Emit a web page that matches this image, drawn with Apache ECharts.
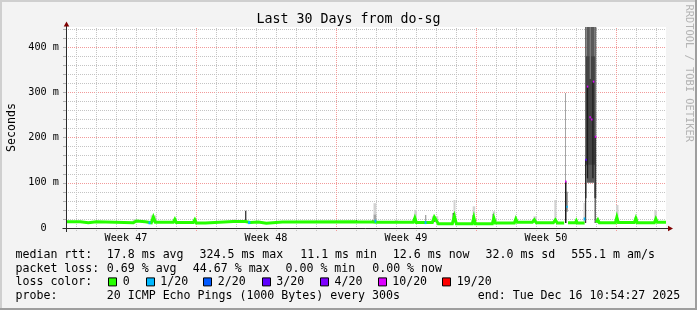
<!DOCTYPE html>
<html><head><meta charset="utf-8">
<script src="https://cdn.jsdelivr.net/npm/echarts@6/dist/echarts.min.js"></script>
<style>html,body{margin:0;padding:0;background:#f3f3f3}#c{width:697px;height:310px}</style>
</head><body><div id="c"></div>
<script>
// ---------- DATA (hours on x: start of range = 12, end = 732; values in ms) ----------
const tStart = 12, tEnd = 732, yMaxMs = 445;
const dayHours = 24, weekHours = 168;
const weekCenters = [84, 252, 420, 588];
const weekLabels = ['Week 47', 'Week 48', 'Week 49', 'Week 50'];
const yTickValues = [0, 100, 200, 300, 400];
const yTickLabels = ['0  ', '100 m', '200 m', '300 m', '400 m'];

// median rtt polyline [hour, ms]; null = gap
const medianPts = [
  [12,14],[29.2,14],[29.2,11.5],[38.8,11.5],[38.8,14],[48.4,14],[48.4,11.5],[92.8,11.5],[94,15.5],[96.4,15.5],
  [97.6,14],[107.2,14],[107.2,11.5],[114.4,11.5],[116.8,24],[119.2,12.5],[140.8,12.5],[142.6,19],[144.4,12],
  [164.8,12],[166.6,18],[168.4,11],[179.2,11],[179.2,14],[212.8,14.5],[214.6,16],[216.4,14.5],[227.2,14.5],
  [228.4,12],[233.2,12],[233.2,13.5],[242.8,13.5],[242.8,10.5],[252.4,10.5],[252.4,13.5],[271.6,13.5],[271.6,14],
  [359.2,14],[361,17],[362.8,13.5],[379.6,13.5],[382,16],[384.4,13],[407.2,13],[408.4,15],[409.6,12.5],
  [428.8,12.5],[430.6,22],[432.4,12],[451.6,12],[454,24],[456.4,23],[458.8,9.5],[475.6,9.5],[478,26],[480.4,9.5],
  [499.6,9.5],[501.4,23],[503.2,9.5],[523.6,9.5],[525.4,22],[527.2,11],[550,11],[551.8,20],[553.6,12.5],
  [571.6,12.5],[574,18],[576.4,11.5],[596.8,11.5],[599.2,18],[601.6,11],[609.8,11],[611,null],
  [614.4,11.5],[623.2,11.5],[624.4,16],[625.6,11],[634.4,11],[640,null],
  [648.2,12],[650.2,18],[652,11.5],[671.2,11.5],[673,24],[674.8,12],[694,12],[695.8,21],[697.6,11.5],
  [718,11.5],[719.8,20],[721.6,12.5],[732,12.5]
];

// smoke bands [hourFrom, hourTo, lowMs, highMs]
const smokeLight = [
  [92,98,12,19],[113.6,120.4,12,28],[212.8,216.4,13,19],[381,384.4,30,55],[406.6,410,13,18],[430,433,22,40],
  [451,458.6,13,26],[477,479.4,33,62],[500,503,29,48],[524,527,31,37],[573,577,12,26],[598,600.6,18,62],
  [633,635.2,12,56],[672,675,26,51],[694,698,12,24],[718,721,20,40]
];
const smokeMid = [
  [381,384.4,14,30],[442.8,444.4,12,29],[477,479.4,15,33],[610.8,612,103,299],[612.4,614.4,36,80]
];
const smokeBlobOuter = [[634.8,636.8,66,460],[645.8,648.4,66,460]];
const smokeBlobCenter = [[636.8,645.8,100,460]];
const smokeBlobDark = [[636,646.6,140,380]];
const smokeBlobLightStreak = [[640.4,642,330,460]];
const smokeBlack = [
  [115.8,117.4,18,25],[227,228.4,14,38],[360,361.2,14,17],[379.6,380.8,14,17],[429,430.2,14,22],
  [453.4,454.6,14,24],[476,477.4,14,33],[500,501.2,14,29],[524,525.2,14,31],[550,551.2,14,20],
  [573.4,574.6,14,18],[598,599.2,14,18],[623.6,624.6,14,16],[649,650.2,14,18],[672,673.2,14,26],
  [695,696.2,14,22],[718.6,719.8,14,20],
  [610.8,612.6,11,103],[635,636.2,11,151],[646.4,647.6,11,203],[637,638.6,110,313],[643.6,645,110,324]
];

// samples with packet loss [hourFrom, hourTo, ms, lostOf20]
const lossMarks = [
  [111,113.4,11.5,1],[230.4,233.2,12,1],[382.3,384.4,15,1],[442.3,444.6,12,1],
  [612.4,614,47,1],[610.8,612.4,103,10],[633.2,635.2,20,1],[635.2,636.6,151,3],
  [637,638.8,313,10],[640,641.6,245,10],[642,643.4,240,10],[644.2,645.8,324,10],[646.6,648,202,10]
];

// legend texts
const lossLevels = [0, 1, 2, 3, 4, 10, 19];
const lossLegend = ['0', '1/20', '2/20', '3/20', '4/20', '10/20', '19/20'];
const rowLabels = ['median rtt:', 'packet loss:', 'loss color:', 'probe:'];
const rttStats = ['17.8 ms avg', '324.5 ms max', '11.1 ms min', '12.6 ms now', '32.0 ms sd', '555.1 m am/s'];
const lossStats = ['0.69 % avg', '44.67 % max', '0.00 % min', '0.00 % now'];
const probeText = '20 ICMP Echo Pings (1000 Bytes) every 300s';
const endText = 'end: Tue Dec 16 10:54:27 2025';
const titleText = 'Last 30 Days from do-sg';
const yTitle = 'Seconds';
const watermark = 'RRDTOOL / TOBI OETIKER';

// ---------- STYLE ----------
const MONO = '"DejaVu Sans Mono", monospace';
const lossColors = {0:'#26ff00',1:'#00b8ff',2:'#0059ff',3:'#5e00ff',4:'#7e00ff',10:'#dd00ff',19:'#ff0000'};
const GRID_MINOR = '#c4c4c4', GRID_MAJOR = '#f29a9a';
const yLineColors = [GRID_MAJOR, GRID_MINOR, GRID_MINOR, GRID_MINOR, GRID_MINOR];

// vertical grid positions: every midnight inside the range
const dayLines = [];
for (let t = Math.ceil(tStart / dayHours) * dayHours; t < tEnd; t += dayHours) dayLines.push([t, t % weekHours === 0 ? 1 : 0]);

function band(data, color, z) {
  return {
    type: 'custom', data: data, z: z, silent: true, clip: true,
    encode: {x: [0, 1], y: [2, 3]},
    renderItem: function (params, api) {
      const a = api.coord([api.value(0), api.value(3)]);
      const b = api.coord([api.value(1), api.value(2)]);
      const cs = params.coordSys;
      const r = echarts.graphic.clipRectByRect(
        {x: a[0], y: a[1], width: Math.max(b[0] - a[0], 1), height: b[1] - a[1]},
        {x: cs.x, y: cs.y, width: cs.width, height: cs.height});
      if (!r) return null;
      return {type: 'rect', shape: r, style: {fill: color}};
    }
  };
}

const chart = echarts.init(document.getElementById('c'), null, {renderer: 'canvas', width: 697, height: 310});
chart.setOption({
  animation: false,
  backgroundColor: '#f3f3f3',
  grid: {left: 66, top: 27, width: 600, height: 201, show: true, backgroundColor: '#ffffff', borderWidth: 0},
  xAxis: {
    type: 'value', min: tStart, max: tEnd, interval: 12,
    axisLine: {show: false}, axisTick: {show: false}, splitLine: {show: false},
    axisLabel: {
      margin: 5, color: '#000', fontFamily: MONO, fontSize: 10.2,
      formatter: function (v) {
        const i = weekCenters.findIndex(c => Math.abs(c - v) < 1e-6);
        return i >= 0 ? weekLabels[i] : '';
      }
    }
  },
  yAxis: {
    type: 'value', min: 0, max: yMaxMs, interval: 20,
    axisLine: {show: false},
    axisTick: {show: true, length: 3, lineStyle: {color: '#b0b0b0'}},
    axisLabel: {
      margin: 7, color: '#000', fontFamily: MONO, fontSize: 10.2, showMaxLabel: false,
      formatter: function (v) {
        const i = yTickValues.findIndex(c => Math.abs(c - v) < 1e-6);
        return i >= 0 ? yTickLabels[i] : '';
      }
    },
    splitLine: {show: true, showMaxLine: false, lineStyle: {color: yLineColors, width: 1, type: [1, 1]}}
  },
  series: [
    {
      type: 'custom', data: dayLines, z: 0, silent: true, clip: false,
      encode: {x: 0},
      renderItem: function (params, api) {
        const cs = params.coordSys;
        const x = Math.round(api.coord([api.value(0), 0])[0]) + 0.5;
        return {type: 'line', shape: {x1: x, y1: cs.y + cs.height + 3, x2: x, y2: cs.y},
          style: {stroke: api.value(1) ? GRID_MAJOR : GRID_MINOR, lineWidth: 1, lineDash: [1, 1]}};
      }
    },
    band(smokeLight, '#d2d2d2', 1),
    band(smokeMid, '#a4a4a4', 2),
    band(smokeBlobOuter, '#6c6c6c', 3),
    band(smokeBlobCenter, '#595959', 3),
    band(smokeBlobDark, '#434343', 4),
    band(smokeBlobLightStreak, '#7c7c7c', 4),
    band(smokeBlack, '#1c1c1c', 5),
    {
      type: 'line', data: medianPts, z: 6, silent: true, showSymbol: false, connectNulls: false, clip: true,
      lineStyle: {color: lossColors[0], width: 3, cap: 'butt', join: 'miter'}
    },
    {
      type: 'custom', data: lossMarks, z: 7, silent: true, clip: true,
      encode: {x: [0, 1], y: 2},
      renderItem: function (params, api) {
        const a = api.coord([api.value(0), api.value(2)]);
        const b = api.coord([api.value(1), api.value(2)]);
        const h = api.value(2) > 30 ? 2 : 3;
        return {type: 'rect', shape: {x: a[0], y: a[1] - h / 2, width: Math.max(b[0] - a[0], 1.5), height: h},
          style: {fill: lossColors[api.value(3)]}};
      }
    }
  ]
});

// ---------- decorations (axes with arrows, frame, texts, legend) ----------
const p0 = chart.convertToPixel({gridIndex: 0}, [tStart, 0]);
const p1 = chart.convertToPixel({gridIndex: 0}, [tEnd, yMaxMs]);
const ax = Math.floor(p0[0]) + 0.5, ay = Math.floor(p0[1]) + 0.5;
const topY = p1[1], rightX = p1[0];
const AXIS = '#2a2a2a', ARROW = '#7f0000';
const g = [];
g.push({type: 'rect', shape: {x: 0, y: 0, width: 697, height: 2}, style: {fill: '#cfcfcf'}, silent: true});
g.push({type: 'rect', shape: {x: 0, y: 0, width: 2, height: 310}, style: {fill: '#cfcfcf'}, silent: true});
g.push({type: 'rect', shape: {x: 0, y: 308, width: 697, height: 2}, style: {fill: '#9e9e9e'}, silent: true});
g.push({type: 'rect', shape: {x: 695, y: 0, width: 2, height: 310}, style: {fill: '#9e9e9e'}, silent: true});
g.push({type: 'line', z: 50, shape: {x1: ax - 4, y1: ay, x2: rightX + 2, y2: ay}, style: {stroke: AXIS, lineWidth: 1}, silent: true});
g.push({type: 'line', z: 50, shape: {x1: ax, y1: ay + 3.5, x2: ax, y2: topY - 1}, style: {stroke: AXIS, lineWidth: 1}, silent: true});
g.push({type: 'polygon', z: 51, shape: {points: [[ax - 2.8, topY - 0.5], [ax + 2.8, topY - 0.5], [ax, topY - 5.5]]}, style: {fill: ARROW}, silent: true});
g.push({type: 'polygon', z: 51, shape: {points: [[rightX + 2, ay - 2.8], [rightX + 2, ay + 2.8], [rightX + 7, ay]]}, style: {fill: ARROW}, silent: true});

function txt(s, x, y, size, opts) {
  opts = opts || {};
  return {type: 'text', x: x, y: y, rotation: opts.rot || 0, z: 60, silent: true,
    style: {text: s, font: size + 'px ' + MONO, fill: opts.color || '#000',
      textAlign: opts.align || 'left', align: opts.align || 'left',
      textVerticalAlign: 'middle', verticalAlign: 'middle'}};
}
g.push(txt(titleText, 348.5, 20, 13.3, {align: 'center'}));
g.push(txt(yTitle, 11.5, 127.5, 11.6, {align: 'center', rot: Math.PI / 2}));
g.push(txt(watermark, 688.5, 4.5, 10.4, {align: 'left', rot: -Math.PI / 2, color: '#b4b4b4'}));

const LF = 11.6;
const rowY = [254.8, 268.6, 282.4, 296.4];
const labelX = 15.5;
rowLabels.forEach((s, i) => g.push(txt(s, labelX, rowY[i], LF)));
const rttX = [106.8, 199.5, 300.2, 392.8, 485.5, 571.2];
rttStats.forEach((s, i) => g.push(txt(s, rttX[i], rowY[0], LF)));
const lossX = [106.8, 192.8, 285.5, 372.2];
lossStats.forEach((s, i) => g.push(txt(s, lossX[i], rowY[1], LF)));
const boxX = [108.3, 145.7, 203.3, 261.7, 320, 377.7, 442.3];
lossLevels.forEach((lv, i) => {
  g.push({type: 'rect', z: 60, silent: true, shape: {x: Math.round(boxX[i]) + 0.5, y: rowY[2] - 4.5, width: 8, height: 8},
    style: {fill: lossColors[lv], stroke: '#000', lineWidth: 1}});
  g.push(txt(lossLegend[i], boxX[i] + 14.5, rowY[2], LF));
});
g.push(txt(probeText, 106.8, rowY[3], LF));
g.push(txt(endText, 477.8, rowY[3], LF));

chart.setOption({graphic: g});
</script>
</body></html>
